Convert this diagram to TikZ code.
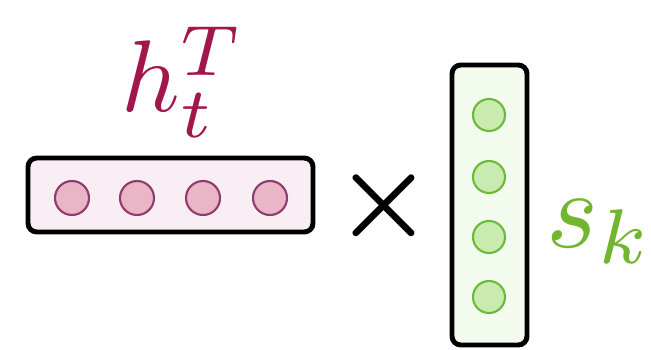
\documentclass[tikz,border=0pt]{standalone}
\usepackage{tikz}
\usetikzlibrary{positioning}
\definecolor{hred}{HTML}{A3164B}
\definecolor{hpinkfill}{HTML}{F9EEF3}
\definecolor{hdot}{HTML}{EBB5C8}
\definecolor{hdotline}{HTML}{8E3B70}
\definecolor{sgreen}{HTML}{72B52E}
\definecolor{sgreenfill}{HTML}{F3FAEE}
\definecolor{sdot}{HTML}{C9EBB0}
\definecolor{sdotline}{HTML}{6DBA3A}

\begin{document}
\begin{tikzpicture}[
    vecbox/.style={draw=black, line width=2.8pt, rounded corners=5pt, inner sep=0pt},
    hunit/.style={circle, draw=hdotline, fill=hdot, line width=1.2pt, minimum size=0.68cm, inner sep=0pt},
    sunit/.style={circle, draw=sdotline, fill=sdot, line width=1.2pt, minimum size=0.64cm, inner sep=0pt},
    biglabel/.style={font=\normalsize, scale=6.3, inner sep=0pt}]
  \useasboundingbox (0,0) rectangle (13.02,6.98);
  % query vector h_t^T
  \node[vecbox, fill=hpinkfill, minimum width=5.7cm, minimum height=1.48cm] (hbox) at (3.41,3.08) {};
  \foreach \i/\x in {1/1.44, 2/2.74, 3/4.06, 4/5.40}
    \node[hunit] (h\i) at (\x,3.02) {};
  \node[biglabel, scale=0.92, text=hred, anchor=base] (hlabel) at (3.66,4.74) {$h_t^T$};
  % times sign
  \node[biglabel, font=\boldmath] (times) at (7.68,2.86) {$\times$};
  % key vector s_k
  \node[vecbox, fill=sgreenfill, minimum width=1.5cm, minimum height=5.6cm] (sbox) at (9.79,2.88) {};
  \foreach \i/\y in {1/4.68, 2/3.44, 3/2.24, 4/1.04}
    \node[sunit] (s\i) at (9.78,\y) {};
  \node[biglabel, text=sgreen, anchor=base] (slabel) at (12.0,2.04) {$s_k$};
\end{tikzpicture}
\end{document}
